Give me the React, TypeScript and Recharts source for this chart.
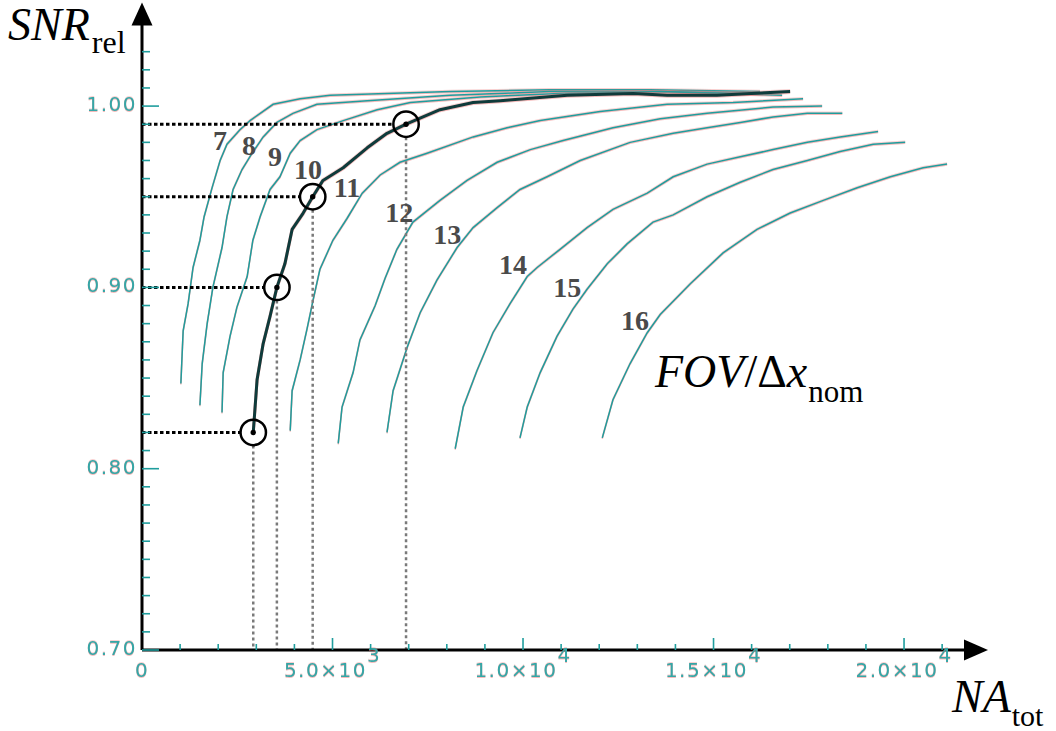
import { ComposedChart, Line, XAxis, YAxis, ReferenceLine, ReferenceDot } from 'recharts'

type Pt = [number, number]

// axis ranges (NA_tot on x, SNR_rel on y)
const X_MAX = 21600
const Y_MIN = 0.7
const Y_MAX = 1.045

const X_TICKS = [
  0, 1000, 2000, 3000, 4000, 5000, 6000, 7000, 8000, 9000, 10000,
  11000, 12000, 13000, 14000, 15000, 16000, 17000, 18000, 19000, 20000, 21000,
]
const X_LABELS: Record<number, [string, string]> = {
  0: ['0', ''],
  5000: ['5.0×10', '3'],
  10000: ['1.0×10', '4'],
  15000: ['1.5×10', '4'],
  20000: ['2.0×10', '4'],
}
const Y_TICKS = [
  0.7, 0.71, 0.72, 0.73, 0.74, 0.75, 0.76, 0.77, 0.78, 0.79,
  0.8, 0.81, 0.82, 0.83, 0.84, 0.85, 0.86, 0.87, 0.88, 0.89,
  0.9, 0.91, 0.92, 0.93, 0.94, 0.95, 0.96, 0.97, 0.98, 0.99,
  1.0, 1.01, 1.02, 1.03,
]
const Y_LABELS = [0.7, 0.8, 0.9, 1.0]

// one curve per FOV/dx_nom value: [NA_tot, SNR_rel]
const fov7: Pt[] = [
  [1020, 0.847], [1080, 0.876], [1210, 0.891], [1340, 0.911], [1520, 0.926], [1630, 0.939],
  [1840, 0.955], [2050, 0.97], [2230, 0.979], [2570, 0.987], [2835, 0.992], [3440, 1.001],
  [4150, 1.004], [4935, 1.006], [8085, 1.008], [10710, 1.009], [13335, 1.009], [16220, 1.008],
]
const fov8: Pt[] = [
  [1520, 0.835], [1580, 0.858], [1710, 0.88], [1860, 0.9], [2100, 0.922], [2230, 0.939],
  [2390, 0.954], [2625, 0.965], [2890, 0.974], [3180, 0.983], [3540, 0.991], [3960, 0.996],
  [4590, 1.001], [5910, 1.003], [8085, 1.006], [10710, 1.008], [13335, 1.008], [16540, 1.007],
]
const fov9: Pt[] = [
  [2100, 0.831], [2130, 0.853], [2310, 0.873], [2490, 0.889], [2760, 0.906], [2910, 0.926],
  [3100, 0.939], [3360, 0.954], [3620, 0.961], [3890, 0.974], [4150, 0.981], [4590, 0.987],
  [5280, 0.992], [6170, 0.998], [7040, 1.002], [8870, 1.005], [10970, 1.007], [13600, 1.008],
  [16800, 1.006],
]
const fov10: Pt[] = [
  [2920, 0.82], [3020, 0.849], [3180, 0.869], [3360, 0.884], [3540, 0.9], [3750, 0.913],
  [3940, 0.932], [4230, 0.941], [4480, 0.95], [4750, 0.959], [5280, 0.966], [5910, 0.977],
  [6430, 0.985], [6930, 0.99], [7820, 0.998], [8690, 1.002], [9400, 1.003], [11160, 1.006],
  [12890, 1.007], [13780, 1.006], [15090, 1.006], [17010, 1.008],
]
const fov11: Pt[] = [
  [3890, 0.821], [3940, 0.843], [4150, 0.86], [4330, 0.877], [4490, 0.893], [4670, 0.91],
  [5010, 0.926], [5380, 0.938], [5780, 0.952], [6250, 0.962], [6770, 0.969], [7480, 0.974],
  [8690, 0.983], [9580, 0.988], [10450, 0.992], [12020, 0.997], [13780, 1.001], [15510, 1.002],
  [17350, 1.004],
]
const fov12: Pt[] = [
  [5150, 0.814], [5250, 0.834], [5540, 0.853], [5720, 0.871], [6120, 0.89], [6380, 0.905],
  [6690, 0.921], [7110, 0.936], [7820, 0.948], [8530, 0.959], [9320, 0.969], [10190, 0.976],
  [11050, 0.981], [12360, 0.988], [13600, 0.993], [14830, 0.996], [16560, 0.9995], [17850, 1.0],
]
const fov13: Pt[] = [
  [6430, 0.82], [6590, 0.843], [6960, 0.867], [7300, 0.886], [7740, 0.904], [8270, 0.922],
  [8690, 0.933], [9320, 0.944], [9920, 0.954], [10630, 0.961], [11500, 0.97], [12810, 0.98],
  [13940, 0.985], [14830, 0.988], [15700, 0.991], [16560, 0.994], [17460, 0.996], [18380, 0.996],
]
const fov14: Pt[] = [
  [8220, 0.811], [8430, 0.834], [8790, 0.854], [9210, 0.875], [9660, 0.891], [10110, 0.906],
  [10370, 0.911], [10970, 0.921], [11680, 0.933], [12360, 0.943], [13260, 0.952], [13940, 0.961],
  [14830, 0.968], [15700, 0.972], [16560, 0.976], [17460, 0.98], [18320, 0.983], [19320, 0.986],
]
const fov15: Pt[] = [
  [9920, 0.817], [10110, 0.834], [10450, 0.853], [10890, 0.873], [11310, 0.888], [11680, 0.899],
  [12210, 0.913], [12730, 0.924], [13410, 0.936], [13940, 0.94], [14830, 0.95], [15700, 0.958],
  [16560, 0.965], [17460, 0.97], [18320, 0.975], [19190, 0.979], [20030, 0.98],
]
const fov16: Pt[] = [
  [12080, 0.817], [12360, 0.838], [12810, 0.858], [13260, 0.875], [13600, 0.885], [14390, 0.902],
  [15250, 0.919], [16140, 0.932], [17010, 0.941], [17880, 0.948], [18770, 0.955], [19640, 0.961],
  [20500, 0.966], [21130, 0.968],
]

const THIN_CURVES = [fov7, fov8, fov9, fov11, fov12, fov13, fov14, fov15, fov16]

// curve number labels, placed in data coordinates
const CURVE_NUMBERS = [7, 8, 9, 10, 11, 12, 13, 14, 15, 16]
const NUMBER_X = [2050, 2810, 3490, 4360, 5380, 6750, 8010, 9740, 11160, 12940]
const NUMBER_Y = [0.981, 0.9785, 0.972, 0.965, 0.955, 0.9415, 0.929, 0.9125, 0.9, 0.882]

// marked operating points on the bold curve
const MARK_X = [2920, 3540, 4480, 6930]
const MARK_Y = [0.82, 0.9, 0.95, 0.99]
// leader lines stop at the circle rim (radius expressed in data units)
const RIM_X = 340
const RIM_Y = 0.0072

const TEAL = '#1f9d9d'
const TICK_TEXT = '#34a7a7'
const HALO = 'drop-shadow(0 1px 0 rgba(236,120,120,0.5)) drop-shadow(0 -1px 0 rgba(236,120,120,0.35))'

const toRows = (pts: Pt[]) => pts.map(([x, y]) => ({ x, y }))

function XTick({ x, y, payload }: any) {
  const v = payload.value as number
  const lab = X_LABELS[v]
  const major = v % 5000 === 0
  return (
    <g>
      {v > 0 && (
        <line x1={x} x2={x} y1={y} y2={y - (major ? 12 : 6)} stroke={TEAL} strokeWidth={1.6} />
      )}
      {lab && (
        <text
          x={x}
          y={y + 27}
          textAnchor="middle"
          fontFamily="DejaVu Sans"
          fontSize={20}
          letterSpacing={1.5}
          fill={TICK_TEXT}
          style={{ filter: HALO }}
        >
          {lab[0]}
          {lab[1] && <tspan dy={-15}>{lab[1]}</tspan>}
        </text>
      )}
    </g>
  )
}

function YTick({ x, y, payload }: any) {
  const v = payload.value as number
  const major = Y_LABELS.some(l => Math.abs(l - v) < 1e-6)
  return (
    <g>
      <line x1={x} x2={x + (major ? 17 : 8)} y1={y} y2={y} stroke={TEAL} strokeWidth={1.6} />
      {major && (
        <text
          x={x - 5}
          y={y - 2}
          textAnchor="end"
          dominantBaseline="central"
          fontFamily="DejaVu Sans"
          fontSize={20}
          letterSpacing={1.5}
          fill={TICK_TEXT}
          style={{ filter: HALO }}
        >
          {v.toFixed(2)}
        </text>
      )}
    </g>
  )
}

export default function App() {
  return (
    <div style={{ position: 'absolute', left: 0, top: 0, width: 1056, height: 731, background: '#fff' }}>
      <style>{`.halo { filter: ${HALO}; }`}</style>
      <ComposedChart width={1056} height={731} margin={{ top: 24.5, right: 91, bottom: 51, left: 0 }}>
        <XAxis
          dataKey="x"
          type="number"
          domain={[0, X_MAX]}
          allowDataOverflow
          ticks={X_TICKS}
          interval={0}
          height={30}
          tickSize={0}
          tickMargin={0}
          tickLine={false}
          axisLine={{ stroke: '#000', strokeWidth: 3 }}
          tick={<XTick />}
        />
        <YAxis
          type="number"
          domain={[Y_MIN, Y_MAX]}
          allowDataOverflow
          ticks={Y_TICKS}
          interval={0}
          width={142}
          tickSize={0}
          tickMargin={0}
          tickLine={false}
          axisLine={{ stroke: '#000', strokeWidth: 3 }}
          tick={<YTick />}
        />

        {THIN_CURVES.map((pts, i) => (
          <Line
            key={i}
            className="halo"
            data={toRows(pts)}
            dataKey="y"
            type="linear"
            stroke={TEAL}
            strokeWidth={1.5}
            dot={false}
            activeDot={false}
            isAnimationActive={false}
          />
        ))}
        <Line
          className="halo"
          data={toRows(fov10)}
          dataKey="y"
          type="linear"
          stroke="#0f3b3b"
          strokeWidth={3}
          strokeLinejoin="round"
          dot={false}
          activeDot={false}
          isAnimationActive={false}
        />

        {/* dotted leader lines from the marked points to both axes */}
        {MARK_X.map((mx, i) => (
          <ReferenceLine
            key={`h${i}`}
            segment={[{ x: 0, y: MARK_Y[i] }, { x: mx - RIM_X, y: MARK_Y[i] }]}
            stroke="#000"
            strokeWidth={3}
            strokeDasharray="3.5 2.5"
            ifOverflow="visible"
          />
        ))}
        {MARK_X.map((mx, i) => (
          <ReferenceLine
            key={`v${i}`}
            segment={[{ x: mx, y: MARK_Y[i] - RIM_Y }, { x: mx, y: Y_MIN }]}
            stroke="#7a7a7a"
            strokeWidth={2.5}
            strokeDasharray="3 3"
            ifOverflow="visible"
          />
        ))}
        {MARK_X.map((mx, i) => (
          <ReferenceDot
            key={`c${i}`}
            x={mx}
            y={MARK_Y[i]}
            r={13}
            ifOverflow="visible"
            isFront
            shape={(p: any) => (
              <g>
                <circle cx={p.cx} cy={p.cy} r={12.7} fill="none" stroke="#000" strokeWidth={2.5} />
                <circle cx={p.cx} cy={p.cy} r={2.7} fill="#000" />
              </g>
            )}
          />
        ))}

        {CURVE_NUMBERS.map((n, i) => (
          <ReferenceDot
            key={`n${n}`}
            x={NUMBER_X[i]}
            y={NUMBER_Y[i]}
            r={1}
            ifOverflow="visible"
            shape={(p: any) => (
              <text
                x={p.cx}
                y={p.cy}
                textAnchor="middle"
                dominantBaseline="central"
                fontFamily="Liberation Serif"
                fontWeight="bold"
                fontSize={28}
                fill="#4a4a4a"
              >
                {n}
              </text>
            )}
          />
        ))}

        {/* axis arrowheads */}
        <ReferenceDot
          x={X_MAX}
          y={Y_MIN}
          r={1}
          ifOverflow="visible"
          shape={(p: any) => (
            <polygon points={`${p.cx - 1},${p.cy - 10.5} ${p.cx + 23},${p.cy} ${p.cx - 1},${p.cy + 10.5}`} fill="#000" />
          )}
        />
        <ReferenceDot
          x={0}
          y={Y_MAX}
          r={1}
          ifOverflow="visible"
          shape={(p: any) => (
            <polygon points={`${p.cx - 10.5},${p.cy + 1} ${p.cx},${p.cy - 22} ${p.cx + 10.5},${p.cy + 1}`} fill="#000" />
          )}
        />
      </ComposedChart>

      <svg width={1056} height={731} style={{ position: 'absolute', left: 0, top: 0, pointerEvents: 'none' }}>
        <g fontFamily="Liberation Serif" fill="#000">
          <text x={8} y={40} fontSize={46} fontStyle="italic">
            SNR
            <tspan fontStyle="normal" fontSize={32} dx={2} dy={13}>rel</tspan>
          </text>
          <text x={952} y={712} fontSize={46} fontStyle="italic">
            NA
            <tspan fontStyle="normal" fontSize={30} dx={1} dy={14}>tot</tspan>
          </text>
          <text x={655} y={387} fontSize={46}>
            <tspan fontStyle="italic">FOV</tspan>
            <tspan>/Δ</tspan>
            <tspan fontStyle="italic">x</tspan>
            <tspan fontSize={31} dx={1} dy={15}>nom</tspan>
          </text>
        </g>
      </svg>
    </div>
  )
}
